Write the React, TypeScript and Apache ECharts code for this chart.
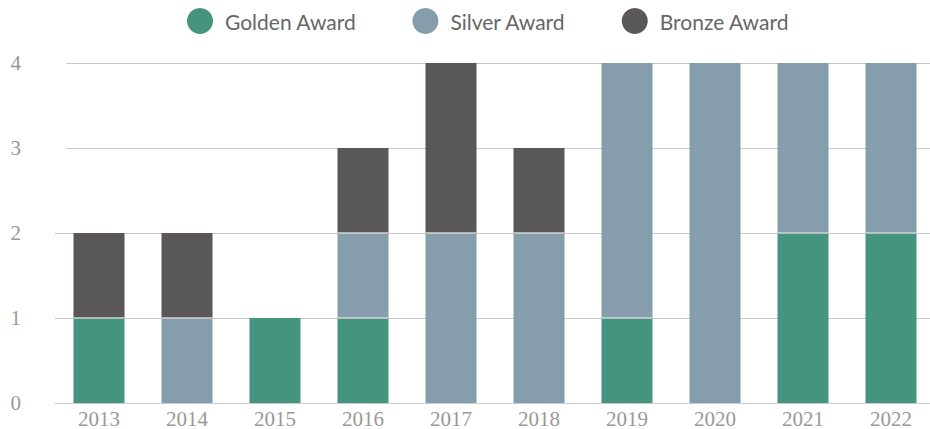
import React, { useEffect, useRef } from "react";
import * as echarts from "echarts";

const years = ["2013", "2014", "2015", "2016", "2017", "2018", "2019", "2020", "2021", "2022"];
const golden = [1, 0, 1, 1, 0, 0, 1, 0, 2, 2];
const silver = [0, 1, 0, 1, 2, 2, 3, 4, 2, 2];
const bronze = [1, 1, 0, 1, 2, 1, 0, 0, 0, 0];
const yTicks = [0, 1, 2, 3, 4];

const boundaries: number[][] = [];
years.forEach((_, i) => {
  const g = golden[i], s = silver[i], b = bronze[i];
  if (g > 0 && s + b > 0) boundaries.push([i, g]);
  if (s > 0 && b > 0) boundaries.push([i, g + s]);
});

export default function App() {
  const ref = useRef<HTMLDivElement>(null);
  useEffect(() => {
    if (!ref.current) return;
    const chart = echarts.init(ref.current, null, { renderer: "svg" });
    const mk = (name: string, data: number[], color: string) => ({
      name,
      type: "bar",
      stack: "total",
      data,
      barWidth: 51,
      z: 2,
      itemStyle: { color },
    });
    chart.setOption({
      animation: false,
      legend: {
        top: 8,
        left: 187,
        padding: 0,
        itemWidth: 26,
        itemHeight: 26,
        itemGap: 56,
        icon: "circle",
        textStyle: { color: "#666", fontSize: 21, fontFamily: "Lato", padding: [0, 0, 0, 7] },
        data: ["Golden Award", "Silver Award", "Bronze Award"],
      },
      grid: { left: 55, top: 63, width: 880, bottom: 24 },
      xAxis: {
        type: "category",
        data: years,
        axisLine: { lineStyle: { color: "#ccc" } },
        axisTick: { show: false },
        axisLabel: { color: "#999", fontSize: 21, fontFamily: "Liberation Serif", margin: 5 },
      },
      yAxis: {
        type: "value",
        min: yTicks[0],
        max: yTicks[yTicks.length - 1],
        interval: 1,
        axisLine: { show: false },
        axisTick: { show: false },
        splitLine: { show: false },
        axisLabel: { color: "#999", fontSize: 21, fontFamily: "Liberation Serif", margin: 34 },
      },
      series: [
        {
          name: "grid",
          type: "custom",
          z: 1,
          silent: true,
          data: yTicks.slice(1).map((t) => [0, t]),
          encode: { x: 0, y: 1 },
          renderItem: (params: any, api: any) => {
            const cs = params.coordSys;
            const v = api.value(1);
            const y = Math.round(api.coord([0, v])[1]) + 0.5;
            const x1 = v >= 3 ? cs.x + 11 : cs.x;
            return {
              type: "line",
              shape: { x1, y1: y, x2: cs.x + cs.width, y2: y },
              style: { stroke: "#c8c8c8", lineWidth: 1 },
            };
          },
        },
        mk("Golden Award", golden, "#449480"),
        mk("Silver Award", silver, "#869eab"),
        mk("Bronze Award", bronze, "#595758"),
        {
          name: "bounds",
          type: "custom",
          z: 5,
          silent: true,
          data: boundaries,
          encode: { x: 0, y: 1 },
          renderItem: (params: any, api: any) => {
            const p = api.coord([api.value(0), api.value(1)]);
            const y = Math.round(p[1]);
            return {
              type: "line",
              shape: { x1: p[0] - 25.5, y1: y, x2: p[0] + 25.5, y2: y },
              style: { stroke: "#d4d4d4", lineWidth: 1.5 },
            };
          },
        },
      ],
    });
    return () => chart.dispose();
  }, []);
  return (
    <div style={{ position: "absolute", left: 0, top: 0, width: 930, height: 429, overflow: "hidden" }}>
      <div ref={ref} style={{ width: 940, height: 429 }} />
    </div>
  );
}
